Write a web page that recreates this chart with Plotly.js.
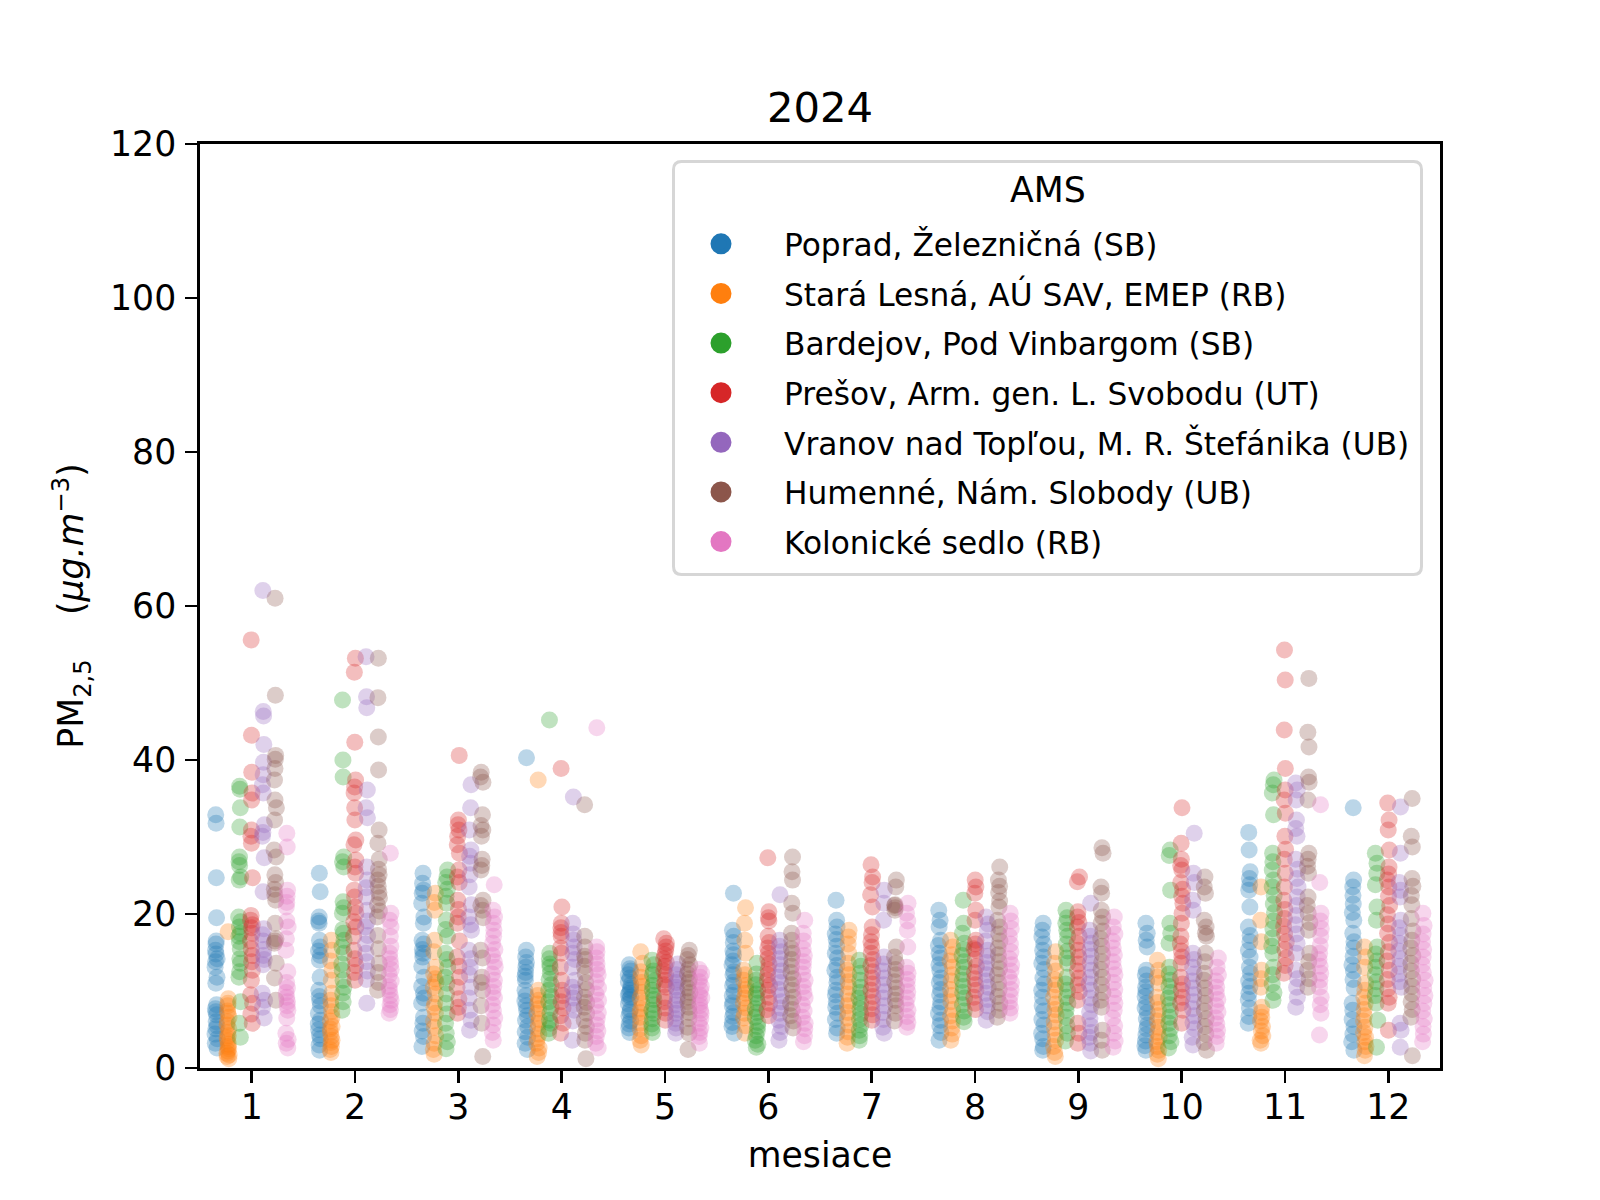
<!DOCTYPE html>
<html>
<head>
<meta charset="utf-8">
<script src="https://cdn.plot.ly/plotly-3.0.1.min.js"></script>
<style>html,body{margin:0;padding:0;background:#fff;}</style>
</head>
<body>
<div id="chart" style="width:1600px;height:1200px;"></div>
<script>
const months = ['1','2','3','4','5','6','7','8','9','10','11','12'];
const stations = [
  'Poprad, Železničná (SB)',
  'Stará Lesná, AÚ SAV, EMEP (RB)',
  'Bardejov, Pod Vinbargom (SB)',
  'Prešov, Arm. gen. L. Svobodu (UT)',
  'Vranov nad Topľou, M. R. Štefánika (UB)',
  'Humenné, Nám. Slobody (UB)',
  'Kolonické sedlo (RB)'
];
const legendTitle = 'AMS';
const colors = ['#1f77b4','#ff7f0e','#2ca02c','#d62728','#9467bd','#8c564b','#e377c2'];

// PM2.5 daily values (µg/m3), one list per month
const poprad = [
  [32.9,31.8,24.7,19.5,16.5,16.1,15.3,14.8,14.2,13.8,13.1,11.8,11.0,8.2,7.7,7.3,6.9,6.0,5.5,5.1,4.4,3.8,3.2,2.6],
  [25.3,22.9,19.6,19.1,18.8,16.6,15.7,15.2,14.6,14.0,11.8,10.1,9.3,8.7,8.1,7.1,6.2,5.7,5.0,4.3,3.8,3.0,2.3],
  [25.3,24.0,23.1,22.7,21.4,19.6,18.8,16.6,16.1,15.4,14.9,14.4,13.2,11.8,10.6,9.7,9.1,8.4,6.6,5.8,4.8,4.1,2.8],
  [40.3,15.3,14.4,13.7,13.1,12.4,11.9,11.4,10.1,9.4,8.7,8.1,7.5,6.8,6.2,5.4,4.7,4.0,3.2,2.4],
  [13.4,12.9,12.6,12.1,11.7,11.2,10.8,10.4,10.1,9.7,9.5,9.2,8.9,8.3,7.6,7.3,6.8,6.1,5.7,5.2,4.6],
  [22.7,17.9,17.1,16.3,15.2,14.7,13.9,13.4,12.5,12.1,11.2,10.7,9.9,9.4,8.5,8.1,7.2,6.7,5.9,5.4,4.5],
  [21.8,19.2,18.3,17.4,16.7,15.8,14.9,14.3,13.3,12.7,11.8,11.1,10.1,9.5,8.6,7.9,7.1,6.3,5.2,4.5],
  [20.5,19.2,18.3,16.6,15.9,14.9,14.3,13.4,12.7,11.7,11.1,10.2,9.5,8.6,7.9,7.1,6.2,5.5,4.6,3.6],
  [18.8,17.9,17.0,16.1,15.3,14.4,13.6,12.8,11.7,10.9,10.1,9.2,8.1,7.4,6.3,5.6,4.5,3.8,2.8,2.3],
  [18.8,17.5,16.6,15.7,12.7,12.1,11.3,10.5,9.9,9.3,8.4,7.8,7.2,6.4,5.6,5.1,4.3,3.5,2.9,2.3],
  [30.6,28.3,25.5,24.6,23.8,23.1,20.9,18.3,17.2,16.4,15.3,14.4,13.1,12.3,11.3,10.6,9.7,8.9,7.8,6.7,5.8],
  [33.8,24.4,23.5,22.4,21.3,20.2,19.2,17.5,16.4,15.6,14.5,13.4,12.6,11.5,10.4,8.4,7.5,6.3,5.4,4.4,3.4,2.3]
];
const staraLesna = [
  [17.7,9.0,8.4,8.1,7.4,7.1,6.6,6.0,5.6,5.1,4.6,4.2,3.9,3.5,3.1,2.8,2.5,2.2,1.9,1.7,1.5,1.2],
  [16.6,15.3,13.9,12.7,11.4,9.7,8.8,8.1,7.3,6.6,6.1,5.4,5.1,4.6,4.1,3.6,3.3,2.8,2.4,2.0],
  [22.7,21.5,20.5,16.6,15.1,13.1,12.2,11.6,11.1,10.5,9.6,8.4,7.9,7.1,6.1,5.3,4.2,3.2,2.4,1.8],
  [37.4,10.1,9.4,8.8,8.3,7.7,7.1,6.3,5.8,5.1,4.4,3.8,3.2,2.6,2.0,1.5],
  [15.1,13.6,12.5,11.8,11.1,10.6,9.8,9.1,8.4,7.7,7.2,6.6,5.8,5.1,4.2,3.6,3.0],
  [20.8,18.8,16.6,14.9,12.7,12.1,11.4,10.7,10.2,9.7,9.1,8.4,7.8,7.1,6.5,5.5,4.5],
  [17.9,17.0,16.1,14.9,13.6,12.7,12.1,11.2,10.5,9.6,8.7,8.1,7.2,6.5,5.6,4.7,4.0,3.2],
  [16.6,15.7,14.7,13.9,13.1,12.1,11.3,10.2,9.4,8.6,7.6,6.8,6.1,5.2,4.4,3.6],
  [15.1,13.6,12.6,11.5,10.8,10.1,9.2,8.3,7.6,6.9,6.0,5.2,4.3,3.6,2.8,2.0,1.5],
  [14.0,12.7,11.8,11.0,9.2,8.5,7.6,6.8,6.1,5.3,4.6,4.0,3.4,2.8,2.3,1.8,1.2],
  [23.5,19.2,16.4,12.7,11.6,10.5,7.9,7.2,6.6,6.1,5.4,4.8,4.2,3.6,3.2],
  [15.7,14.4,13.1,11.0,10.1,9.2,8.4,7.6,6.8,6.1,5.3,4.6,4.0,3.4,2.8,2.3,1.6]
];
const bardejov = [
  [36.6,36.2,33.8,31.3,27.4,26.8,26.3,24.8,24.4,19.6,19.0,18.3,17.5,17.1,16.4,15.5,14.2,13.6,12.5,11.8,8.6,5.8,4.0],
  [47.8,40.0,37.8,27.4,26.8,26.1,21.6,20.8,20.1,18.0,17.5,16.6,15.7,14.9,13.5,12.7,11.4,10.5,9.7,8.6,7.5],
  [25.7,24.8,24.1,23.2,22.3,21.4,19.2,18.0,17.1,14.9,14.1,13.1,11.8,11.0,9.6,8.4,7.0,5.8,4.5,3.4,2.5],
  [45.2,14.9,14.2,13.5,13.1,12.3,11.5,10.8,10.1,9.3,8.6,7.9,7.1,6.2,5.8,5.1,4.5],
  [14.0,13.4,12.6,12.1,11.3,10.7,10.1,9.4,8.9,8.2,7.5,7.1,6.4,5.7,5.2,4.6],
  [13.6,12.2,11.4,10.8,10.1,9.6,9.1,8.4,7.7,7.2,6.6,5.9,5.4,4.8,4.2,3.6,3.1,2.7],
  [14.0,13.2,12.3,11.4,10.5,9.8,9.1,8.4,7.7,7.0,6.3,5.6,4.9,4.2,3.6],
  [21.8,18.8,17.5,16.2,15.4,14.6,13.8,13.1,12.2,11.4,10.6,9.8,9.1,8.2,7.4,6.6,6.0],
  [20.5,19.5,18.8,17.9,17.1,16.1,15.2,14.3,13.6,11.8,10.9,10.1,9.2,8.4,7.5,6.6,5.5,4.5,3.5],
  [28.3,27.6,23.1,18.8,17.5,16.2,13.1,12.2,11.4,10.6,9.8,9.1,8.2,7.4,6.6,5.8,5.1,4.2,3.4,2.6],
  [37.4,36.8,35.7,32.9,27.9,26.8,25.7,24.4,23.5,22.4,21.3,20.2,19.1,18.1,16.9,15.8,14.9,13.1,12.1,10.9,9.8,8.8],
  [27.9,26.6,25.3,23.8,20.9,19.2,15.7,14.8,13.9,13.1,12.1,11.2,10.3,9.4,8.4,6.2,2.7]
];
const presov = [
  [55.6,43.2,38.4,35.7,34.8,30.9,30.1,29.2,24.7,19.8,19.2,18.6,18.2,17.5,16.5,15.5,14.6,13.8,12.7,11.4,9.5,8.4,7.0,5.8],
  [53.2,51.4,42.3,37.4,36.5,35.7,33.8,32.2,29.6,29.0,27.0,26.1,25.3,23.1,22.2,20.9,20.1,19.0,18.3,17.1,15.3,14.2,13.3,12.4,11.4],
  [40.6,32.2,31.6,30.9,30.1,29.0,27.9,25.7,24.8,24.1,21.8,20.6,19.6,18.8,16.5,14.4,13.2,11.8,10.5,9.0,7.9,7.1],
  [38.9,20.9,18.8,18.2,17.6,17.1,15.6,14.9,13.1,11.4,10.1,9.4,8.6,7.8,6.8,5.8,4.5],
  [16.8,16.2,15.7,15.2,14.7,14.2,13.7,13.2,12.6,12.1,11.4,10.8,10.5,9.2,8.6,7.8,7.1,6.2],
  [27.3,20.3,19.5,19.1,17.1,16.3,15.6,14.9,14.2,13.5,12.8,12.1,11.4,10.7,10.1,9.2,8.4,7.6,6.8],
  [26.4,24.8,24.1,22.5,20.9,18.3,17.3,16.4,15.7,14.9,14.1,13.3,12.5,11.7,10.9,10.1,9.3,8.5,7.7,6.9,6.2],
  [24.4,23.5,22.7,20.5,19.2,16.6,16.1,15.5,15.3,14.1,13.2,12.4,11.6,10.8,10.1,9.2,8.4,7.6],
  [24.8,24.2,20.3,19.6,18.9,18.3,17.1,16.2,15.3,14.4,13.5,12.6,11.7,10.8,9.9,8.8,5.8,4.5,3.2],
  [33.8,29.2,27.1,26.3,25.7,24.1,23.2,22.3,21.4,20.1,18.8,17.1,16.1,15.2,14.4,13.6,11.8,10.9,10.1,9.2,8.4,7.5,5.8],
  [54.3,50.4,43.9,38.9,36.1,34.8,33.1,30.1,28.4,27.1,25.3,23.5,21.8,20.6,19.4,18.4,17.4,16.4,15.4,14.3,13.3,12.3],
  [34.4,32.2,30.9,28.3,26.1,25.2,24.4,23.5,22.3,21.1,19.9,18.7,17.5,16.3,15.1,13.9,12.7,11.5,10.3,9.2,8.4,4.9]
];
const vranov = [
  [62.0,46.3,45.7,42.0,39.7,38.1,36.8,35.7,31.6,30.6,30.1,27.3,22.9,18.1,17.3,16.5,15.4,14.6,14.1,13.4,9.7,8.8,7.9,6.5],
  [53.4,48.2,46.8,36.1,33.8,32.5,26.1,24.4,23.4,22.2,20.5,19.1,18.3,17.2,16.1,14.9,13.8,12.6,11.5,8.4],
  [36.8,33.8,30.9,28.3,27.5,26.6,25.1,23.5,21.2,19.6,18.6,17.9,15.3,14.2,13.1,12.1,10.5,9.1,7.5,6.2,4.9],
  [35.2,18.8,17.4,16.6,15.7,14.9,14.1,13.1,11.4,10.5,9.8,9.1,8.2,7.5,6.1,3.6],
  [13.5,12.8,12.1,11.5,11.1,10.5,10.1,9.4,8.8,8.2,7.6,7.1,6.4,5.8,5.2,4.5],
  [22.5,16.6,15.8,15.1,14.2,13.4,12.6,11.8,11.1,10.2,9.4,8.6,7.8,7.1,6.2,5.4,4.6,3.6],
  [23.1,21.4,19.2,14.4,13.5,12.6,11.7,10.8,9.9,9.1,8.1,7.2,6.3,5.3,4.5],
  [19.6,18.7,17.9,16.5,15.3,14.5,13.7,12.9,12.1,11.3,10.5,9.7,8.9,8.1,7.3,6.2],
  [21.4,17.9,17.1,16.2,15.4,14.5,13.6,12.7,11.8,10.9,10.1,9.1,8.2,7.3,6.4,5.5,4.6,4.0,3.2,2.2],
  [30.5,25.3,24.1,21.8,20.5,14.9,14.1,13.1,12.2,11.3,10.4,9.5,8.6,7.7,6.8,5.9,5.1,4.0,3.0],
  [37.0,36.1,34.8,32.2,31.1,30.1,27.1,25.8,24.6,23.5,22.2,21.1,19.8,18.6,17.4,16.2,14.9,12.7,11.6,10.5,9.2,7.9],
  [33.9,27.9,24.1,23.1,22.2,19.2,18.2,17.2,16.2,15.2,14.2,13.2,12.2,11.2,10.5,5.8,4.9,2.7]
];
const humenne = [
  [61.0,48.4,40.6,40.1,38.9,37.4,34.8,33.8,32.2,28.3,27.4,25.1,24.1,23.2,22.5,21.8,18.8,16.8,16.5,16.2,13.6,11.7,8.8],
  [53.2,48.1,43.0,38.7,30.9,29.2,27.1,25.8,25.1,24.4,23.6,22.8,22.1,21.2,20.4,19.6,17.2,15.5,13.6,12.4,11.1,10.1],
  [38.4,37.8,37.1,32.9,31.5,30.9,30.1,27.1,26.3,25.7,21.8,21.1,20.5,19.5,15.3,14.3,11.8,11.1,10.1,8.1,5.8,1.5],
  [34.2,17.1,15.7,14.5,14.1,13.2,12.3,11.1,10.2,9.2,8.5,7.9,7.1,6.2,5.4,4.5,3.6,1.2],
  [15.3,14.6,14.1,13.4,12.8,12.2,11.6,11.1,10.4,9.8,9.2,8.6,7.9,7.2,6.4,5.3,4.5,2.4],
  [27.4,25.5,24.4,21.4,20.1,17.5,16.6,15.5,14.9,14.1,13.2,12.4,11.6,10.8,10.1,9.2,8.4,7.6,6.8,6.1,5.2],
  [24.4,23.5,21.2,21.1,20.8,20.5,15.7,14.4,13.6,12.8,12.1,11.2,10.4,9.6,8.8,8.1,7.1,6.1],
  [26.1,24.4,23.6,22.8,21.7,20.9,19.2,18.3,17.4,16.5,15.6,14.7,13.8,12.9,12.1,11.1,10.2,9.3,8.4,7.5,6.6],
  [28.6,27.9,23.5,22.7,20.5,19.6,18.8,17.8,16.8,15.8,14.8,13.8,12.8,11.8,10.8,9.8,8.8,7.9,4.9,3.6,2.3],
  [24.8,23.5,22.7,19.2,18.3,17.5,17.1,14.9,13.8,12.3,11.4,10.4,9.4,8.4,7.4,6.4,5.4,4.4,3.3,2.3],
  [50.6,43.6,41.7,37.8,37.1,34.8,27.9,27.1,26.2,25.3,22.2,21.1,20.1,18.9,17.9,14.9,13.8,12.7,11.6,10.5],
  [35.0,30.1,28.7,24.6,23.6,22.4,21.2,19.4,17.8,16.6,15.6,14.6,13.6,12.6,11.6,10.6,9.6,8.6,7.6,6.6,1.6]
];
const kolonicke = [
  [30.5,28.7,23.1,22.3,21.5,20.9,19.1,18.3,16.8,15.3,12.5,11.1,10.4,9.8,9.2,8.6,8.1,7.5,6.5,4.5,3.7,3.2,2.6],
  [27.9,20.1,19.2,18.3,17.1,15.8,14.9,14.2,13.5,12.8,12.1,11.3,10.6,10.1,9.4,8.8,8.2,7.6,7.1],
  [23.8,20.5,19.6,18.8,17.9,17.1,16.2,15.4,14.6,13.8,13.1,12.2,11.4,10.6,9.8,9.1,8.2,7.4,6.5,5.6,4.6,3.6],
  [44.2,15.7,15.1,14.3,13.5,12.8,12.1,11.2,10.4,9.6,8.8,8.1,7.2,6.4,5.6,4.8,4.1,3.2,2.6],
  [12.8,12.3,11.8,11.2,10.6,10.1,9.5,9.1,8.5,8.1,7.5,7.1,6.4,5.8,5.2,4.6,4.1,3.2],
  [19.2,17.5,16.5,15.5,14.6,13.8,13.1,12.2,11.4,10.6,9.8,9.1,8.2,7.4,6.6,5.8,5.1,4.2,3.4],
  [21.4,20.1,19.1,17.9,15.7,13.1,12.3,11.5,10.7,9.9,9.1,8.3,7.5,6.7,5.9,5.3],
  [20.1,19.1,18.1,17.1,16.1,15.1,14.2,13.4,12.6,11.8,11.1,10.2,9.4,8.6,7.8,7.1],
  [19.6,18.3,17.4,16.5,15.6,14.7,13.8,12.9,12.1,11.1,10.2,9.3,8.4,7.5,6.5,5.5,4.5,3.5,2.7],
  [14.3,13.1,12.1,11.3,10.5,9.7,8.9,8.1,7.3,6.5,5.7,4.9,4.1,3.2],
  [34.2,24.1,20.1,19.1,18.1,17.1,15.9,14.9,14.1,13.2,12.3,11.4,10.5,9.2,8.2,7.1,4.3],
  [20.1,18.5,17.4,16.4,15.4,14.4,13.4,12.4,11.4,10.4,9.4,8.4,7.4,6.4,5.4,4.4,3.4]
];

const seriesValues = [poprad, staraLesna, bardejov, presov, vranov, humenne, kolonicke];

const FS = 34.7;      // 10 pt at 250 dpi
const FS_LEG = 31.25; // 9 pt at 250 dpi
const traces = [];
seriesValues.forEach(function (series, s) {
  const xs = [], ys = [];
  series.forEach(function (vals, m) {
    vals.forEach(function (v) { xs.push(months[m]); ys.push(v); });
  });
  traces.push({
    type: 'box', name: stations[s], x: xs, y: ys,
    boxpoints: 'all', jitter: 0.25, pointpos: 0,
    fillcolor: 'rgba(0,0,0,0)', line: {width: 0, color: 'rgba(0,0,0,0)'},
    whiskerwidth: 0,
    marker: {color: colors[s], size: 17, opacity: 0.3, line: {width: 0}},
    hoveron: 'points', showlegend: false, legendgroup: 'g' + s
  });
});
stations.forEach(function (name, s) {
  traces.push({
    type: 'scatter', mode: 'markers', name: name, x: [null], y: [null],
    marker: {color: colors[s], size: 16, line: {width: 5, color: colors[s]}},
    showlegend: true, legendgroup: 'g' + s, hoverinfo: 'skip'
  });
});

// legend frame (rounded) in plot-area fractions
const bx0 = (673.5 - 200) / 1240, bx1 = (1421.5 - 200) / 1240;
const by0 = (1068 - 574.5) / 924, by1 = (1068 - 161.5) / 924;
const rx = 8 / 1240, ry = 8 / 924;
const framePath = 'M ' + (bx0 + rx) + ',' + by0 + ' L ' + (bx1 - rx) + ',' + by0 +
  ' Q ' + bx1 + ',' + by0 + ' ' + bx1 + ',' + (by0 + ry) +
  ' L ' + bx1 + ',' + (by1 - ry) + ' Q ' + bx1 + ',' + by1 + ' ' + (bx1 - rx) + ',' + by1 +
  ' L ' + (bx0 + rx) + ',' + by1 + ' Q ' + bx0 + ',' + by1 + ' ' + bx0 + ',' + (by1 - ry) +
  ' L ' + bx0 + ',' + (by0 + ry) + ' Q ' + bx0 + ',' + by0 + ' ' + (bx0 + rx) + ',' + by0 + ' Z';

const layout = {
  width: 1600, height: 1200,
  margin: {l: 200, r: 160, t: 144, b: 132, pad: 0},
  paper_bgcolor: '#ffffff', plot_bgcolor: '#ffffff',
  font: {family: 'DejaVu Sans', size: FS, color: '#000000'},
  title: {text: '2024', font: {size: 41.7, color: '#000'}, x: 0.5, xref: 'paper',
          y: 1 - 107 / 1200, yref: 'container', yanchor: 'middle'},
  boxmode: 'group', boxgap: 0.2, boxgroupgap: 0,
  xaxis: {
    type: 'category', categoryorder: 'array', categoryarray: months,
    range: [-0.5, 11.5],
    showline: true, mirror: true, linecolor: '#000', linewidth: 2.8,
    ticks: 'outside', ticklen: 12, tickwidth: 2.8, tickcolor: '#000',
    tickfont: {size: FS}, showgrid: false, zeroline: false, ticklabelstandoff: -5,
    title: {text: 'mesiace', font: {size: FS}, standoff: 17}
  },
  yaxis: {
    range: [0, 120], tickmode: 'array', tickvals: [0, 20, 40, 60, 80, 100, 120],
    showline: true, mirror: true, linecolor: '#000', linewidth: 2.8,
    ticks: 'outside', ticklen: 12, tickwidth: 2.8, tickcolor: '#000',
    tickfont: {size: FS}, showgrid: false, zeroline: false, ticklabelstandoff: 2,
    title: {text: 'PM<sub>2,5</sub>\u00a0\u00a0\u00a0\u00a0(<i>μg.m</i><sup>−3</sup>)', font: {size: FS}, standoff: 16}
  },
  shapes: [{
    type: 'path', xref: 'paper', yref: 'paper', path: framePath, layer: 'below',
    fillcolor: 'rgba(255,255,255,0.8)', line: {color: '#d6d6d6', width: 3}
  }],
  annotations: [{
    text: legendTitle, xref: 'paper', yref: 'paper',
    x: (bx0 + bx1) / 2, y: (1068 - 190) / 924, xanchor: 'center', yanchor: 'middle',
    showarrow: false, font: {size: FS, color: '#000'}
  }],
  legend: {
    x: (658 - 200) / 1240, xanchor: 'left', y: (1068 - 217) / 924, yanchor: 'top',
    bgcolor: 'rgba(0,0,0,0)', borderwidth: 0,
    font: {size: FS_LEG}, itemwidth: 116, tracegroupgap: 6, itemsizing: 'trace'
  },
  showlegend: true
};

Plotly.newPlot('chart', traces, layout, {staticPlot: true, displayModeBar: false});
</script>
</body>
</html>
